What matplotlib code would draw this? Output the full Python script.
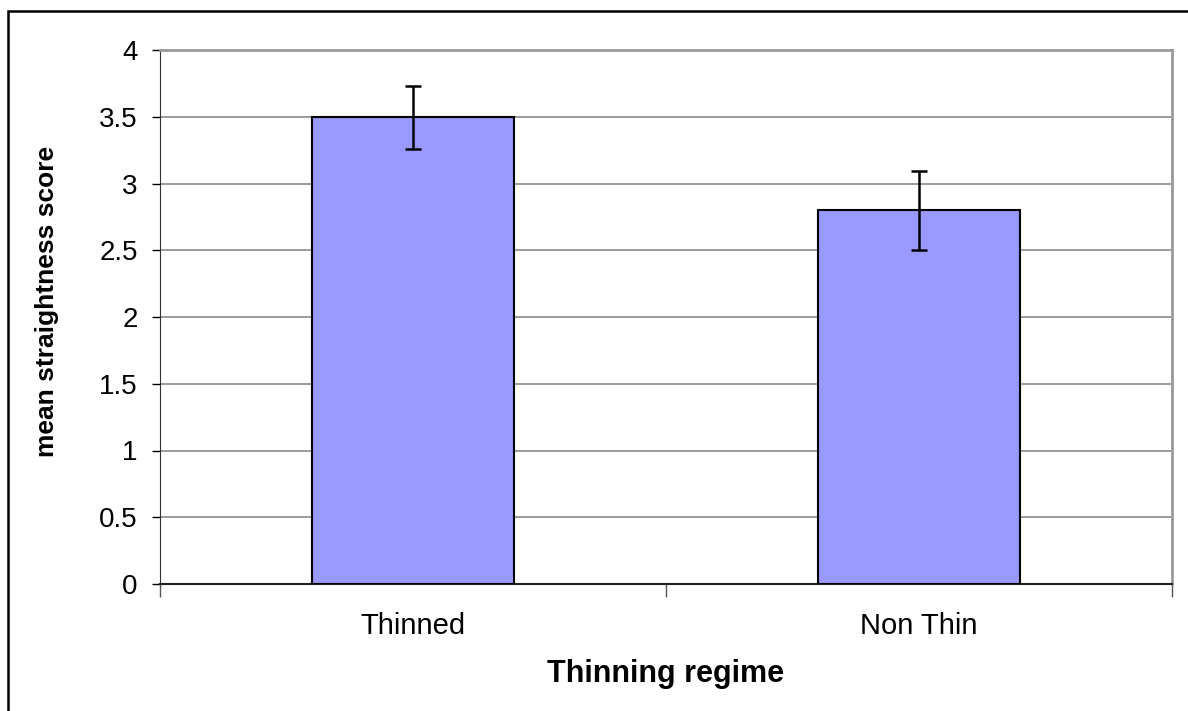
import matplotlib
matplotlib.use("Agg")
import matplotlib.pyplot as plt
from matplotlib.patches import Rectangle

# data
regimes = ["Thinned", "Non Thin"]
mean_score = [3.5, 2.8]
err_low = [0.24, 0.30]
err_high = [0.23, 0.29]
y_ticks = [0, 0.5, 1, 1.5, 2, 2.5, 3, 3.5, 4]
y_tick_labels = ["0", "0.5", "1", "1.5", "2", "2.5", "3", "3.5", "4"]

plt.rcParams["font.family"] = ["Liberation Sans", "DejaVu Sans"]

fig = plt.figure(figsize=(11.88, 7.11), dpi=100)
ax = fig.add_axes([160 / 1188, 1 - 584 / 711, (1172 - 160) / 1188, (584 - 50) / 711])

x = list(range(len(regimes)))
ax.bar(x, mean_score, width=0.4, color="#9999FF", edgecolor="black",
       linewidth=1.5, zorder=3)
ax.errorbar(x, mean_score, yerr=[err_low, err_high], fmt="none",
            ecolor="black", elinewidth=1.8, capsize=6, capthick=1.8, zorder=4)

ax.set_xlim(-0.5, len(regimes) - 0.5)
ax.set_ylim(0, 4)
ax.set_yticks(y_ticks)
ax.set_yticklabels(y_tick_labels, fontsize=20)
ax.yaxis.grid(True, color="#808080", linewidth=1.1, zorder=0)

# category labels without ticks, ticks at category boundaries
ax.set_xticks(x)
ax.set_xticklabels(regimes, fontsize=21)
ax.tick_params(axis="x", which="major", length=0, pad=20)
ax.set_xticks([-0.5, 0.5, 1.5], minor=True)
ax.tick_params(axis="x", which="minor", length=9, width=1, color="#555555")
ax.tick_params(axis="y", length=6, width=1, pad=10)

for side in ["top", "right"]:
    ax.spines[side].set_color("#999999")
    ax.spines[side].set_linewidth(2)
ax.spines["left"].set_color("#333333")
ax.spines["bottom"].set_color("#222222")
ax.spines["bottom"].set_linewidth(1.5)

ax.set_xlabel("Thinning regime", fontsize=22, fontweight="bold")
ax.xaxis.set_label_coords(0.5, -0.14)
ax.set_ylabel("mean straightness score", fontsize=19, fontweight="bold")
ax.yaxis.set_label_coords(-0.1, 0.53)

# outer frame of the chart (only top and left edge visible)
fig.add_artist(Rectangle((8 / 1188, -0.1), 1.2, 1 - 11 / 711 + 0.1,
                         transform=fig.transFigure, fill=False,
                         edgecolor="black", linewidth=1.8))

fig.savefig("out.png", dpi=100)
